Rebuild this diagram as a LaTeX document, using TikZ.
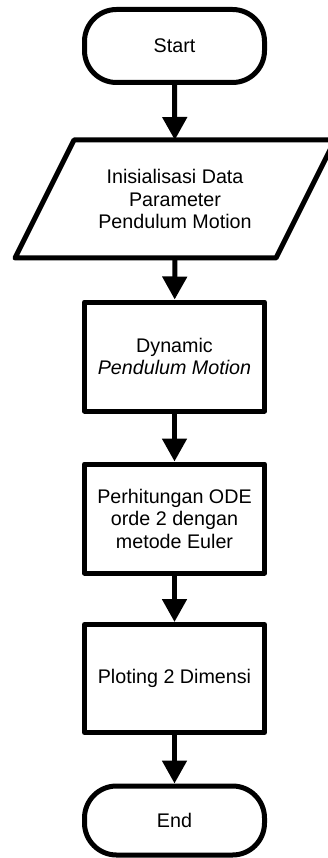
\documentclass[tikz,border=0pt]{standalone}
\usepackage{fontspec}
\setmainfont{Liberation Sans}
\usetikzlibrary{arrows.meta}
\begin{document}
\begin{tikzpicture}[x=1pt,y=-1pt,
  lw/.style={line width=5pt,line join=round},
  term/.style={lw,draw,rounded corners=32pt,minimum width=180pt,inner sep=0pt,align=center},
  proc/.style={lw,draw,minimum width=180pt,inner sep=0pt,align=center},
  txt/.style={font=\fontsize{19.7}{22.5}\selectfont},
  flow/.style={lw,line join=miter,-{Triangle[length=23pt,width=24pt]}}]
\useasboundingbox (0,0) rectangle (328,858);
\node[term,txt,minimum height=73pt] (start) at (174.5,46) {Start};
\node[inner sep=0pt,outer sep=2.5pt,minimum width=261pt,minimum height=113pt,txt,align=center] (init) at (175,199)
  {Inisialisasi Data\\Parameter\\Pendulum Motion};
\draw[lw] ([xshift=-101pt]init.north) -- ([xshift=160pt]init.north) -- ([xshift=101pt]init.south) -- ([xshift=-160pt]init.south) -- cycle;
\node[proc,txt,minimum height=109pt] (dyn) at (174.5,356.5) {Dynamic\\\textit{Pendulum Motion}};
\node[proc,txt,minimum height=109pt] (ode) at (174.5,518.5) {Perhitungan ODE\\orde 2 dengan\\metode Euler};
\node[proc,txt,minimum height=108pt] (plot) at (174.5,678.5) {Ploting 2 Dimensi};
\node[term,txt,minimum height=69pt] (end) at (174.5,820.5) {End};
\draw[flow] (start) -- (init);
\draw[flow] (init) -- (dyn);
\draw[flow] (dyn) -- (ode);
\draw[flow] (ode) -- (plot);
\draw[flow] (plot) -- (end);
\end{tikzpicture}
\end{document}
